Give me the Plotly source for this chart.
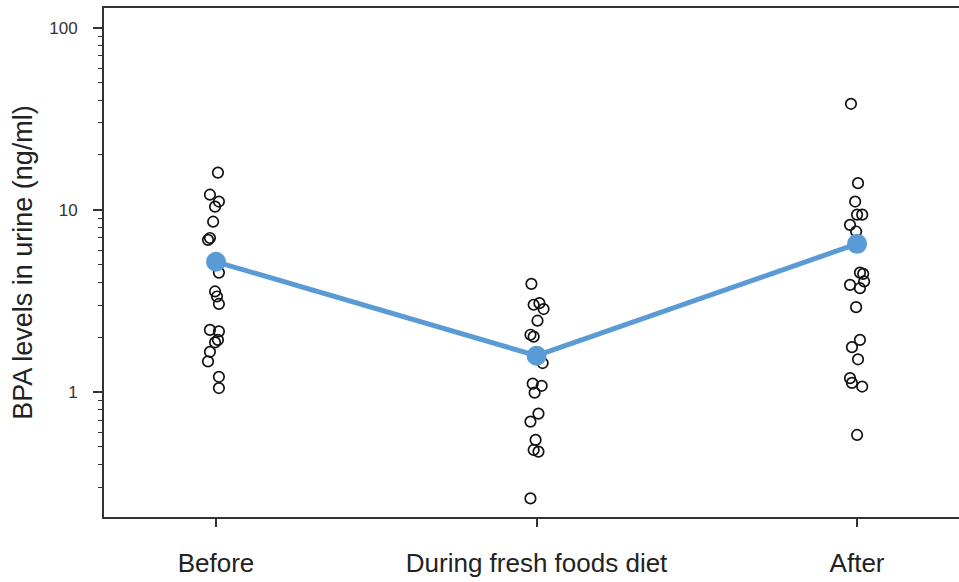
import plotly.graph_objects as go

# ---- data ----
categories = ["Before", "During fresh foods diet", "After"]

before_vals = [16.0, 12.1, 11.1, 10.4, 8.6, 7.0, 6.84, 4.52, 3.56, 3.34, 3.04,
               2.19, 2.15, 1.93, 1.87, 1.66, 1.47, 1.21, 1.05]
before_jit = [0.006, -0.019, 0.009, -0.003, -0.009, -0.019, -0.025, 0.009, -0.003,
              0.003, 0.009, -0.019, 0.009, 0.006, -0.003, -0.019, -0.025, 0.009, 0.009]

during_vals = [3.92, 3.07, 3.01, 2.85, 2.46, 2.06, 2.01, 1.44, 1.11, 1.08, 0.99,
               0.76, 0.687, 0.545, 0.48, 0.47, 0.26]
during_jit = [-0.016, 0.009, -0.009, 0.022, 0.003, -0.019, -0.009, 0.019, -0.012,
              0.016, -0.006, 0.006, -0.019, -0.003, -0.009, 0.006, -0.019]

after_vals = [38.2, 14.0, 11.1, 9.4, 9.4, 8.26, 7.6, 4.52, 4.45, 4.04, 3.87, 3.71,
              2.92, 1.93, 1.76, 1.51, 1.19, 1.12, 1.07, 0.58]
after_jit = [-0.019, 0.003, -0.006, 0.0, 0.016, -0.022, -0.003, 0.009, 0.019, 0.022,
             -0.022, 0.009, -0.003, 0.009, -0.016, 0.003, -0.022, -0.016, 0.016, 0.0]

mean_vals = [5.18, 1.58, 6.5]

y_tick_vals = [1, 10, 100]
y_tick_text = ["1", "10", "100"]
y_minor_vals = [0.3, 0.4, 0.5, 0.6, 0.7, 0.8, 0.9,
                2, 3, 4, 5, 6, 7, 8, 9,
                20, 30, 40, 50, 60, 70, 80, 90]

FONT = "Liberation Sans, Arial, sans-serif"
TXT = "#222222"
AX = "#333333"
BLUE = "#5b9bd5"

fig = go.Figure()

groups = [before_vals, during_vals, after_vals]
jits = [before_jit, during_jit, after_jit]
for i, (vals, jit) in enumerate(zip(groups, jits)):
    fig.add_trace(go.Scatter(
        x=[i + j for j in jit], y=vals, mode="markers",
        marker=dict(symbol="circle-open", size=10.5, color="#111111",
                    line=dict(width=1.7, color="#111111")),
        showlegend=False, hoverinfo="y"))

fig.add_trace(go.Scatter(
    x=list(range(len(categories))), y=mean_vals, mode="lines+markers",
    line=dict(color=BLUE, width=5),
    marker=dict(size=20, color=BLUE),
    showlegend=False))

fig.update_layout(
    width=959, height=582,
    margin=dict(l=104, r=0, t=8, b=65),
    paper_bgcolor="white", plot_bgcolor="white",
    font=dict(family=FONT, color=TXT),
)

fig.update_xaxes(
    range=[-0.3495, 2.318],
    tickmode="array", tickvals=list(range(len(categories))), ticktext=categories,
    tickfont=dict(size=26, family=FONT, color=TXT),
    ticks="outside", ticklen=8, tickwidth=1.5, tickcolor=AX,
    ticklabelstandoff=14,
    showline=True, linecolor=AX, linewidth=2, mirror=True,
    showgrid=False, zeroline=False,
)

fig.update_yaxes(
    type="log", range=[-0.687, 2.108],
    tickmode="array", tickvals=y_tick_vals, ticktext=y_tick_text,
    tickfont=dict(size=17, family=FONT, color="#333333"),
    ticks="outside", ticklen=9, tickwidth=1.5, tickcolor=AX,
    ticklabelstandoff=12,
    minor=dict(tickmode="array", tickvals=y_minor_vals, ticks="outside",
               ticklen=4, tickwidth=1.2, tickcolor=AX, showgrid=False),
    showline=True, linecolor=AX, linewidth=2, mirror=False,
    showgrid=False, zeroline=False,
    title=dict(text="BPA levels in urine (ng/ml)",
               font=dict(size=27, family=FONT, color=TXT), standoff=9),
)

fig.write_html("out.html",
               config={"displayModeBar": False},
               post_script="document.body.style.margin='0';"
                           "document.body.style.overflow='hidden';")
